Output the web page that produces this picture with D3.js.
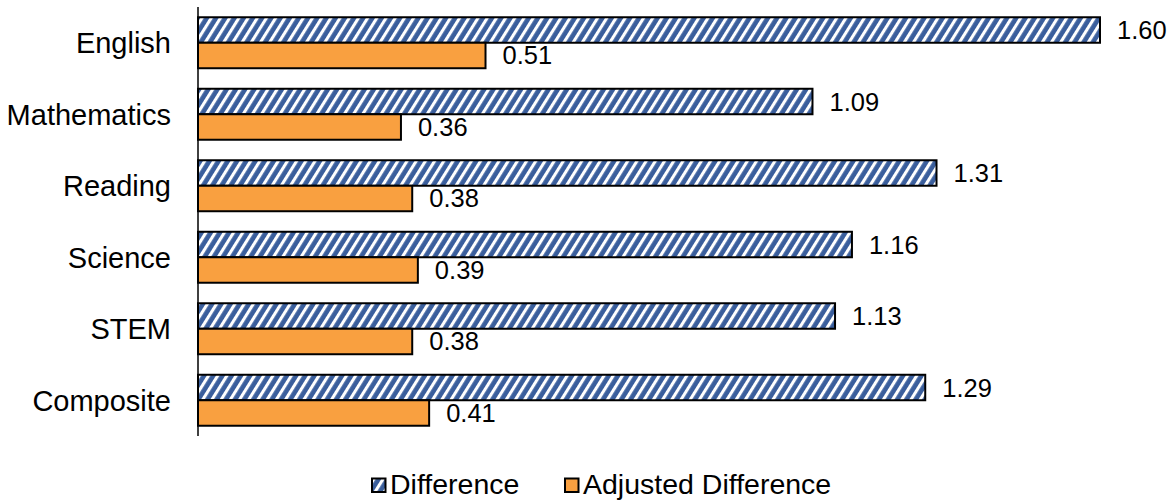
<!DOCTYPE html>
<html><head><meta charset="utf-8">
<script src="https://cdn.jsdelivr.net/npm/d3@7"></script>
<style>body{margin:0;background:#fff}svg{display:block}text{font-family:"Liberation Sans",Arial,sans-serif;fill:#000}</style>
</head><body>
<script>
const categories = ["English","Mathematics","Reading","Science","STEM","Composite"];
const difference = [1.60,1.09,1.31,1.16,1.13,1.29];
const adjusted = [0.51,0.36,0.38,0.39,0.38,0.41];
const seriesNames = ["Difference","Adjusted Difference"];

const W=1173,H=502;
const svg=d3.select("body").append("svg").attr("width",W).attr("height",H);
const defs=svg.append("defs");
const P=7.8;
const pat=defs.append("pattern").attr("id","hatch").attr("patternUnits","userSpaceOnUse")
  .attr("width",P).attr("height",P).attr("patternTransform","rotate(32)");
pat.append("rect").attr("width",P).attr("height",P).attr("fill","#3A5E9C");
pat.append("rect").attr("x",0).attr("width",3.1).attr("height",P).attr("fill","#fff");

const x=d3.scaleLinear().domain([0,1.6]).range([198,1100]);
const y=d3.scaleBand().domain(categories).range([7,436]).paddingInner(0.287).paddingOuter(0.1435);
const sub=d3.scaleBand().domain(seriesNames).range([0,y.bandwidth()]);
const fills=["url(#hatch)","#F9A040"];

const data=categories.map((c,i)=>({c,vals:[difference[i],adjusted[i]]}));
const g=svg.append("g");
data.forEach(d=>{
  d.vals.forEach((v,j)=>{
    const y0=y(d.c)+sub(seriesNames[j]);
    g.append("rect").attr("x",x(0)).attr("y",y0).attr("width",x(v)-x(0)).attr("height",sub.bandwidth())
      .attr("fill",fills[j]).attr("stroke","#000").attr("stroke-width",2);
    g.append("text").attr("x",x(v)+17).attr("y",y0+sub.bandwidth()/2+9)
      .attr("font-size",25.5).text(v.toFixed(2));
  });
  g.append("text").attr("x",171).attr("y",y(d.c)+y.bandwidth()/2+10.4)
    .attr("text-anchor","end").attr("font-size",29).text(d.c);
});
// axis
const ax=svg.append("g").attr("transform",`translate(${x(0)},0)`)
  .call(d3.axisLeft(y).tickSize(0).tickFormat(""));
ax.select(".domain").attr("stroke","#000").attr("stroke-width",1.5).attr("d",`M0,${y.range()[0]}V${y.range()[1]}`);

// legend
const leg=[{x:372,t:0},{x:565,t:1}];
leg.forEach(l=>{
  svg.append("rect").attr("x",l.x).attr("y",478.5).attr("width",13.5).attr("height",13.5)
    .attr("fill",fills[l.t]).attr("stroke","#000").attr("stroke-width",2);
  svg.append("text").attr("x",l.x+18).attr("y",494).attr("font-size",28.5).text(seriesNames[l.t]);
});
</script>
</body></html>
